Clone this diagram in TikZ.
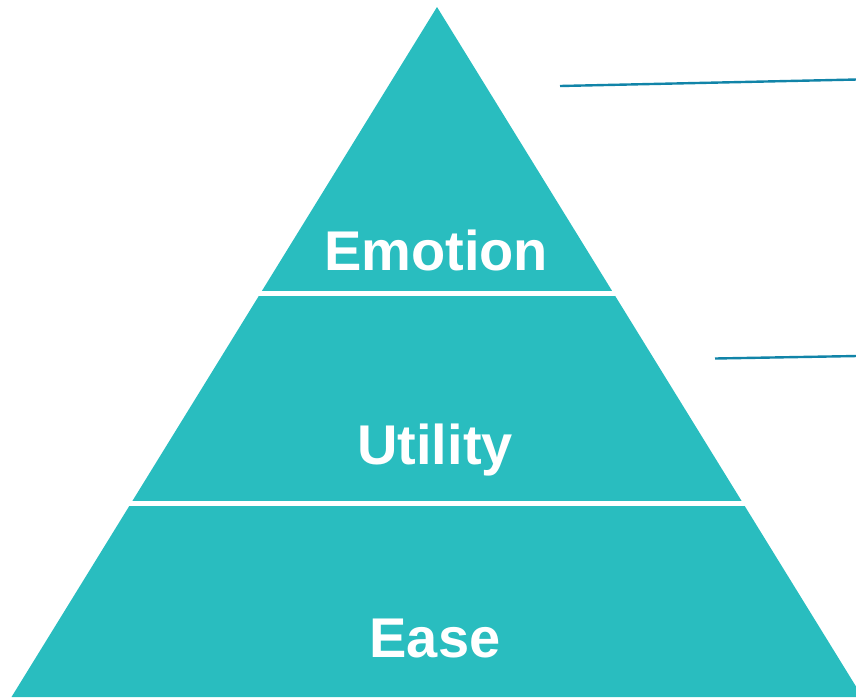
\documentclass[tikz,border=0pt]{standalone}
\usepackage{fontspec}
\setmainfont{Liberation Sans}
\definecolor{pyrfill}{HTML}{29BDBF}
\definecolor{leader}{HTML}{1184A8}
\begin{document}
\begin{tikzpicture}[x=1pt,y=-1pt,
  label/.style={text=white,font=\fontsize{56}{60}\selectfont\bfseries,anchor=base,inner sep=0pt},
  sep/.style={draw=white,line width=5pt},
  leaderline/.style={draw=leader,line width=2.4pt}]
\useasboundingbox (0,0) rectangle (856,697);
\begin{scope}
\clip (0,0) rectangle (856,697);
\coordinate (apex) at (437,7);
\coordinate (bl) at (11.5,697);
\coordinate (br) at (862.5,697);
\fill[pyrfill] (apex) -- (bl) -- (br) -- cycle;
\coordinate (s1l) at (200,293);
\coordinate (s1r) at (680,293);
\coordinate (s2l) at (60,503);
\coordinate (s2r) at (820,503);
\draw[sep] (s1l) -- (s1r);
\draw[sep] (s2l) -- (s2r);
\end{scope}
\node[label] (emotion) at (436,270) {Emotion};
\node[label] (utility) at (435,464) {Utility};
\node[label] (ease) at (435,657.5) {Ease};
\coordinate (l1a) at (560,86);
\coordinate (l1b) at (857,79.5);
\coordinate (l2a) at (715,358.5);
\coordinate (l2b) at (857,356);
\draw[leaderline] (l1a) -- (l1b);
\draw[leaderline] (l2a) -- (l2b);
\end{tikzpicture}
\end{document}
